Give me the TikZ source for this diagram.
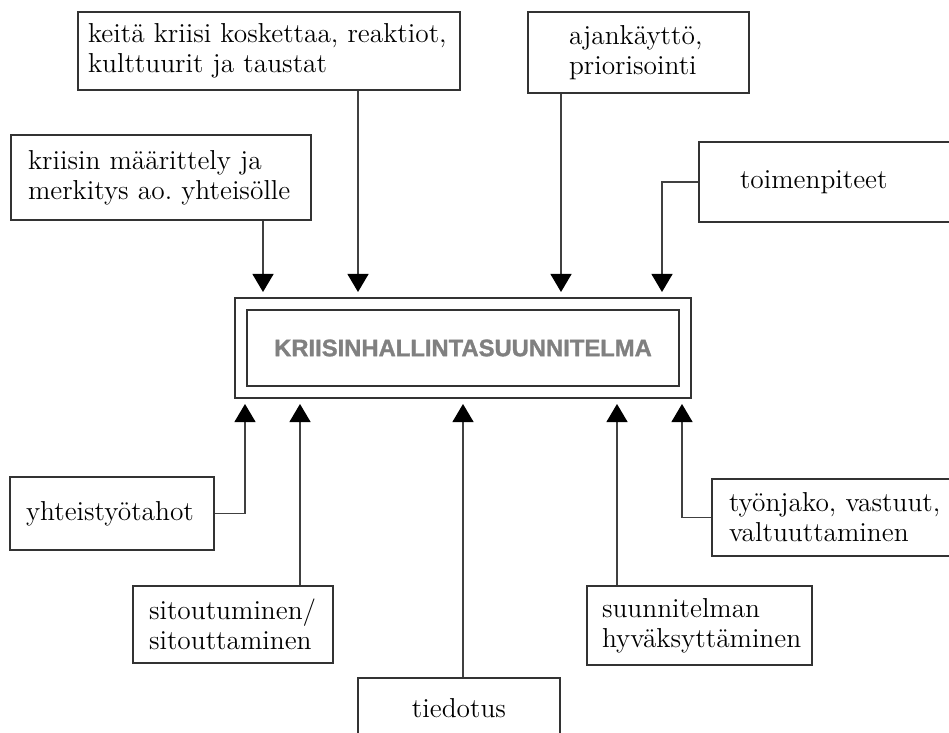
\documentclass[tikz,border=0pt]{standalone}
\usepackage{fontspec}
\usetikzlibrary{arrows.meta, positioning}

\newfontfamily\titlefont{Liberation Sans}[BoldFeatures={FakeBold=1.3}]
\newcommand{\boxfont}{\fontsize{13.7}{15}\selectfont\frenchspacing}

\tikzset{
    topic/.style={draw=black!80, line width=0.55pt, align=left, font=\boxfont,
        inner ysep=0pt},
    feed/.style={draw=black!75, line width=0.6pt,
        -{Triangle[width=10.5pt, length=9pt, color=black]}},
}

\begin{document}
\begin{tikzpicture}[x=0.5pt, y=-0.5pt]
    \useasboundingbox (0,0) rectangle (949,733);
    \clip (0,0) rectangle (949,733);

    % Plan in the middle
    \node[draw=black!80, line width=0.55pt, minimum width=228pt, minimum height=50pt,
        inner sep=0pt] (plan) at (463,348) {};
    \node[draw=black!80, line width=0.55pt, minimum width=216pt, minimum height=38pt,
        inner sep=0pt, text=black!50, font=\titlefont\bfseries\fontsize{11.9}{14}\selectfont]
        (title) at (plan) {KRIISINHALLINTASUUNNITELMA};

    % Boxes above
    \node[topic, minimum height=39pt, inner xsep=5pt, text width=181pt] (keita) at (269,51)
        {keitä kriisi koskettaa, reaktiot,\\ kulttuurit ja taustat};
    \node[topic, minimum height=40.5pt, inner xsep=20.5pt, text width=69.5pt] (ajan) at (638.5,52.5)
        {ajankäyttö,\\ priorisointi};
    \node[topic, minimum height=42.5pt, inner xsep=8.5pt, text width=133pt] (kriisin) at (161,177.5)
        {kriisin määrittely ja\\ merkitys ao. yhteisölle};
    \node[topic, minimum height=40pt, inner xsep=20.5pt, text width=89.5pt] (toimen) at (829.5,182)
        {toimenpiteet};

    % Boxes below
    \node[topic, minimum height=36.5pt, inner xsep=8pt, text width=86pt] (yhteis) at (112,513.5)
        {yhteistyötahot};
    \node[topic, minimum height=38.5pt, inner xsep=8pt, text width=84pt] (sitou) at (233,624.5)
        {sitoutuminen/\\ sitouttaminen};
    \node[topic, minimum height=30pt, minimum width=101pt, align=center] (tiedot) at (459,708)
        {tiedotus};
    \node[topic, minimum height=39.5pt, inner xsep=7.5pt, text width=97.5pt] (suunn) at (699.5,625.5)
        {suunnitelman\\ hyväksyttäminen};
    \node[topic, minimum height=38.5pt, inner xsep=8.5pt, text width=107pt] (tyon) at (836,517.5)
        {työnjako, vastuut,\\ valtuuttaminen};

    % Arrow tips at the plan
    \coordinate (a1) at (263,292);
    \coordinate (a2) at (358,292);
    \coordinate (a3) at (561,292);
    \coordinate (a4) at (662,292);
    \coordinate (b1) at (245,404);
    \coordinate (b2) at (300,404);
    \coordinate (b3) at (463,404);
    \coordinate (b4) at (617,404);
    \coordinate (b5) at (682,404);

    % Inputs from above
    \draw[feed] (kriisin.south -| a1) -- (a1);
    \draw[feed] (keita.south -| a2) -- (a2);
    \draw[feed] (ajan.south -| a3) -- (a3);
    \draw[feed] (toimen.west) -| (a4);

    % Inputs from below
    \draw[feed] (yhteis.east) -| (b1);
    \draw[feed] (sitou.north -| b2) -- (b2);
    \draw[feed] (tiedot.north -| b3) -- (b3);
    \draw[feed] (suunn.north -| b4) -- (b4);
    \draw[feed] (tyon.west) -| (b5);
\end{tikzpicture}
\end{document}
